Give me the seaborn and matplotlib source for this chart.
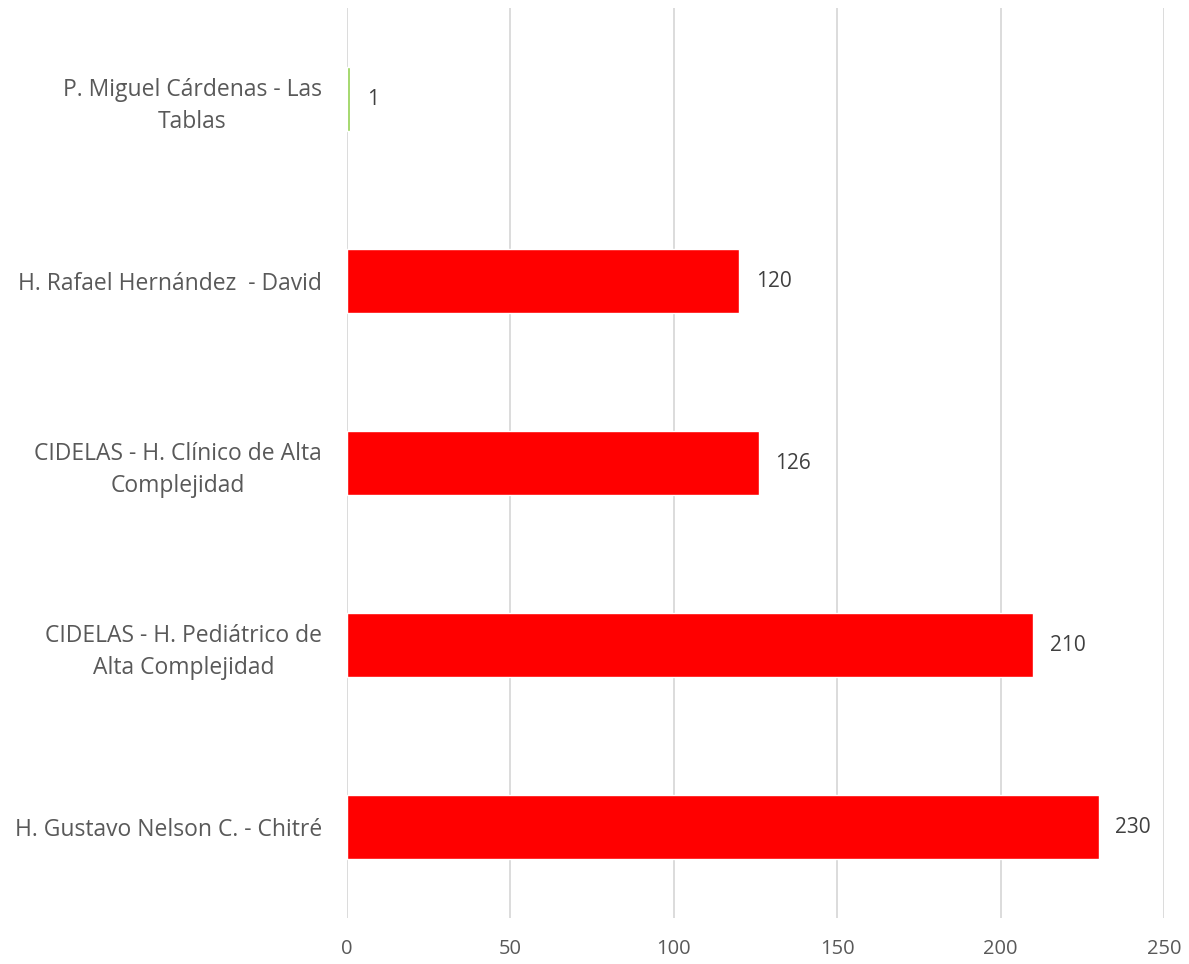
import pandas as pd
import matplotlib.pyplot as plt
import seaborn as sns

# Datos
hospitales = [
    'P. Miguel Cárdenas - Las\nTablas',
    'H. Rafael Hernández  - David',
    'CIDELAS - H. Clínico de Alta\nComplejidad',
    'CIDELAS - H. Pediátrico de\nAlta Complejidad',
    'H. Gustavo Nelson C. - Chitré',
]
valores = [1, 120, 126, 210, 230]
colores = ['#92D050', '#FF0000', '#FF0000', '#FF0000', '#FF0000']
ticks_x = [0, 50, 100, 150, 200, 250]

df = pd.DataFrame({'hospital': hospitales, 'valor': valores})

sns.set_theme(style="white")
plt.rcParams['font.family'] = ['Open Sans', 'DejaVu Sans']

fig = plt.figure(figsize=(11.89, 9.64), dpi=100)
ax = fig.add_axes([0.2918, 0.0477, 0.6873, 0.944])

sns.barplot(data=df, y='hospital', x='valor', hue='hospital', palette=colores,
            legend=False, width=0.355, orient='h', saturation=1, ax=ax)

for cont in ax.containers:
    ax.bar_label(cont, padding=12, fontsize=15, color='#404040')

ax.set_xlim(0, 250)
ax.set_ylim(4.5, -0.5)
ax.set_xticks(ticks_x)
ax.grid(axis='x', color='#D9D9D9', linewidth=1.3)
ax.set_axisbelow(True)
for s in ax.spines.values():
    s.set_visible(False)
ax.set_xlabel('')
ax.set_ylabel('')
ax.tick_params(axis='x', length=0, pad=15, labelsize=14.5, labelcolor='#595959')
ax.tick_params(axis='y', length=0, pad=18, labelsize=16.5, labelcolor='#595959')
for lbl in ax.get_yticklabels():
    lbl.set_multialignment('center')
    lbl.set_linespacing(1.45)

plt.savefig('out.png', dpi=100)
